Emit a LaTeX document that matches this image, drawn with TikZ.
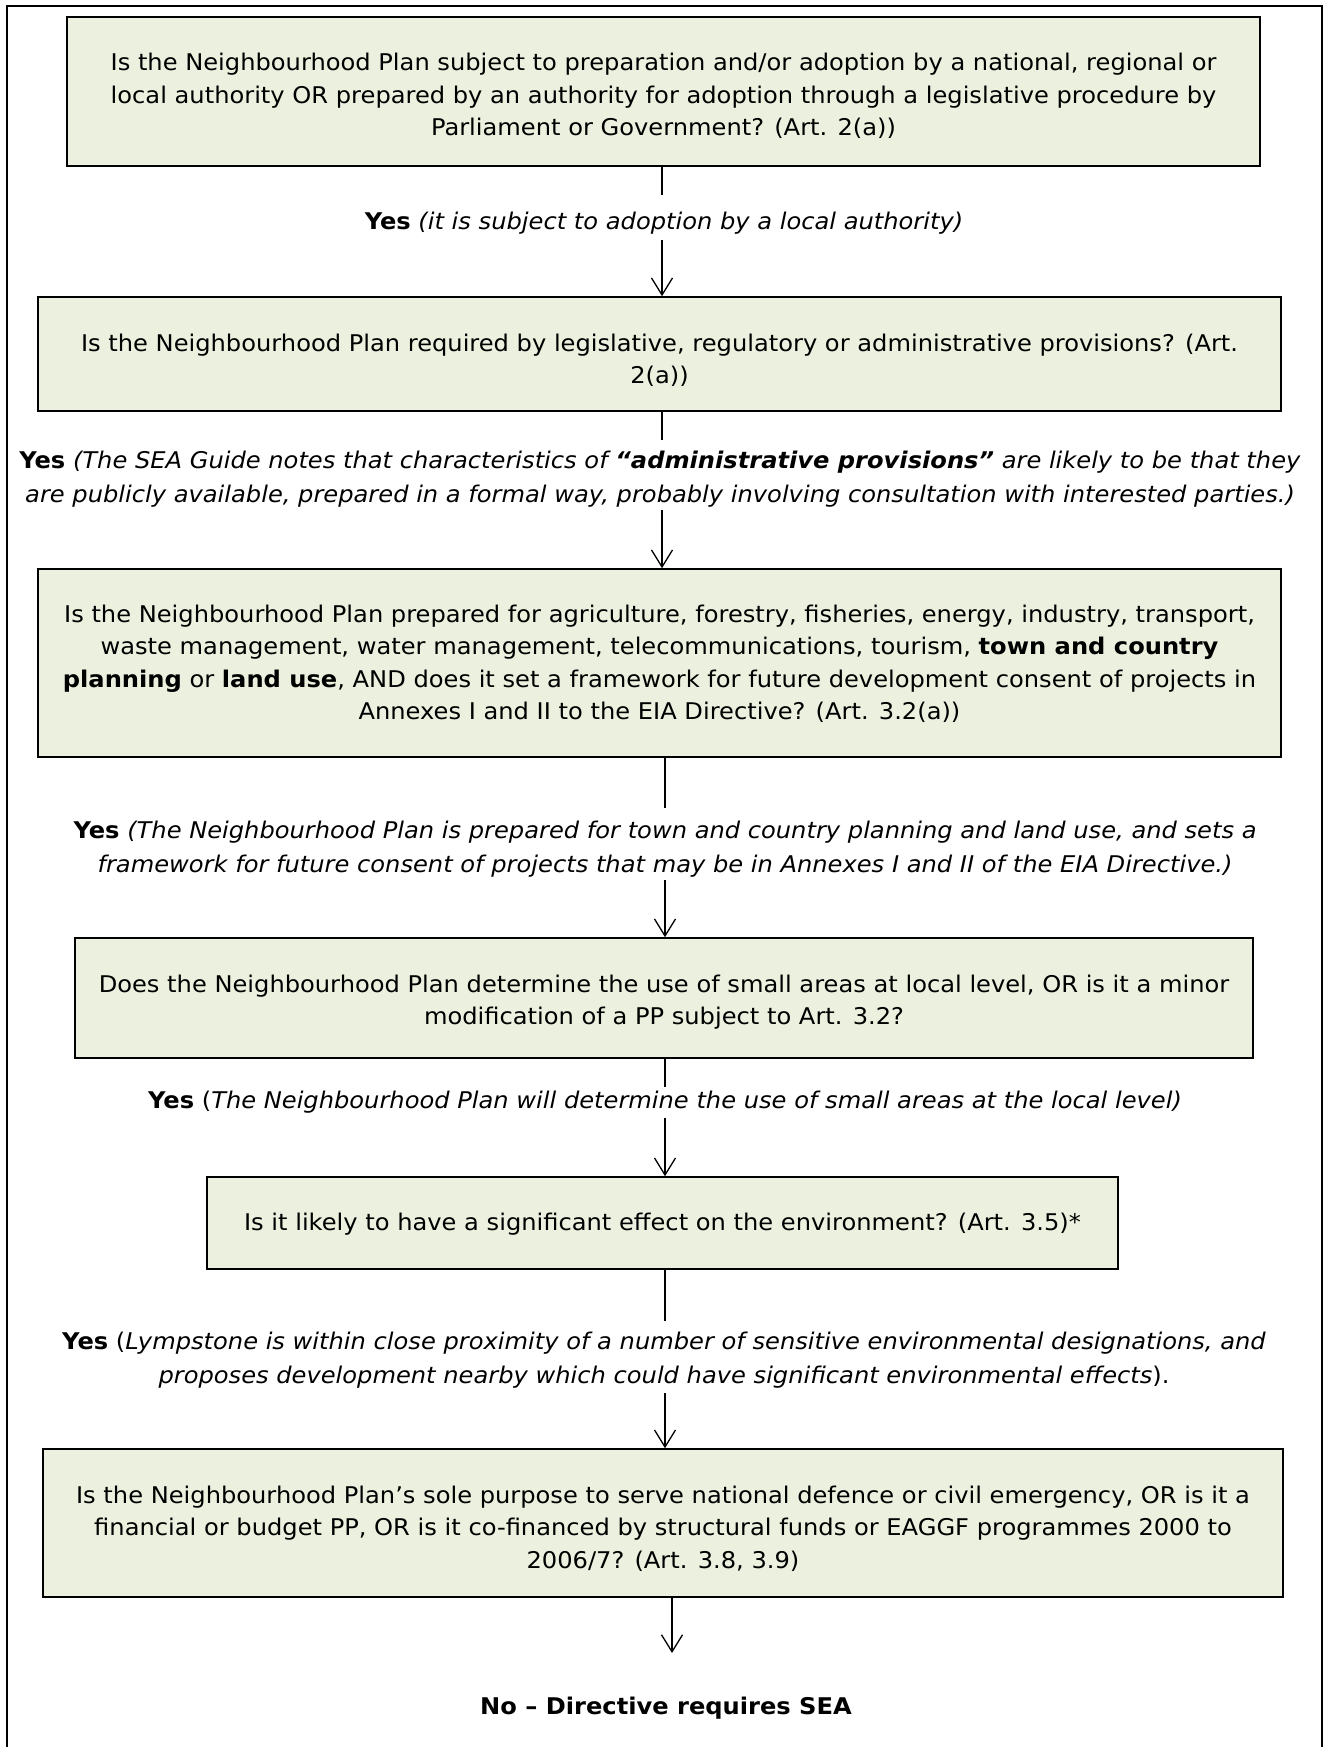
\documentclass[tikz,border=0pt]{standalone}
\usepackage{fontspec}
\setmainfont{DejaVu Sans}[FakeStretch=1.05]
\usetikzlibrary{arrows.meta}
\definecolor{boxfill}{RGB}{235,241,222}
\newcommand\dnshift[1]{\rule{0pt}{\dimexpr 17.5pt+2\dimexpr #1pt\relax\relax}}
\tikzset{
  qbox/.style={draw=black, line width=1.6pt, fill=boxfill, align=center, inner sep=0pt,
    font=\fontsize{23}{32.5}\selectfont},
  lbl/.style={align=center, inner sep=0pt, font=\fontsize{23}{34}\selectfont},
  conn/.style={line width=1.3pt},
  arr/.style={line width=1.3pt, -{Straight Barb[length=17pt,width=21pt,line width=1.3pt]}}
}
\begin{document}
\begin{tikzpicture}[x=1pt,y=-1pt]
\useasboundingbox (0,0) rectangle (1324,1747);
\fill[white] (0,0) rectangle (1324,1747);
\draw[line width=2.2pt] (7,1750) -- (7,6) -- (1322,6) -- (1322,1750);

% boxes
\node[qbox, minimum width=1193, minimum height=149] (b1) at (663.5,91.5)
 {\dnshift{4.5}Is the Neighbourhood Plan subject to preparation and/or adoption by a national, regional or\\
  local authority OR prepared by an authority for adoption through a legislative procedure by\\
  Parliament or Government? (Art. 2(a))};
\node[qbox, minimum width=1243, minimum height=114] (b2) at (659.5,354)
 {\dnshift{6.5}Is the Neighbourhood Plan required by legislative, regulatory or administrative provisions? (Art.\\
  2(a))};
\node[qbox, minimum width=1243, minimum height=188] (b3) at (659.5,663)
 {\dnshift{1}Is the Neighbourhood Plan prepared for agriculture, forestry, fisheries, energy, industry, transport,\\
  waste management, water management, telecommunications, tourism, \textbf{town and country}\\
  \textbf{planning} or \textbf{land use}, AND does it set a framework for future development consent of projects in\\
  Annexes I and II to the EIA Directive? (Art. 3.2(a))};
\node[qbox, minimum width=1178, minimum height=120] (b4) at (664,998)
 {\dnshift{4}Does the Neighbourhood Plan determine the use of small areas at local level, OR is it a minor\\
  modification of a PP subject to Art. 3.2?};
\node[qbox, minimum width=911, minimum height=92] (b5) at (662.5,1223)
 {\dnshift{1}Is it likely to have a significant effect on the environment? (Art. 3.5)*};
\node[qbox, minimum width=1240, minimum height=148] (b6) at (663,1523)
 {\dnshift{5.5}Is the Neighbourhood Plan’s sole purpose to serve national defence or civil emergency, OR is it a\\
  financial or budget PP, OR is it co-financed by structural funds or EAGGF programmes 2000 to\\
  2006/7? (Art. 3.8, 3.9)};

% labels
\node[lbl] (l1) at (664,223.5) {\textbf{Yes} \textit{(it is subject to adoption by a local authority)}};
\node[lbl] (l2) at (660,479)
 {\textbf{Yes} \textit{(The SEA Guide notes that characteristics of \textbf{“administrative provisions”} are likely to be that they}\\
  \textit{are publicly available, prepared in a formal way, probably involving consultation with interested parties.)}};
\node[lbl] (l3) at (665,849.5)
 {\textbf{Yes} \textit{(The Neighbourhood Plan is prepared for town and country planning and land use, and sets a}\\
  \textit{framework for future consent of projects that may be in Annexes I and II of the EIA Directive.)}};
\node[lbl] (l4) at (665,1102.5)
 {\textbf{Yes} (\textit{The Neighbourhood Plan will determine the use of small areas at the local level)}};
\node[lbl] (l5) at (664,1360)
 {\textbf{Yes} (\textit{Lympstone is within close proximity of a number of sensitive environmental designations, and}\\
  \textit{proposes development nearby which could have significant environmental effects}).};
\node[lbl] (fin) at (666,1708) {\textbf{No – Directive requires SEA}};

% connector gap ends
\coordinate (g1a) at (662,195);  \coordinate (g1b) at (662,240);
\coordinate (g2a) at (662,440);  \coordinate (g2b) at (662,510);
\coordinate (g3a) at (665,808);  \coordinate (g3b) at (665,880);
\coordinate (g4a) at (665,1087); \coordinate (g4b) at (665,1118);
\coordinate (g5a) at (665,1321); \coordinate (g5b) at (665,1393);
\coordinate (g6) at (672,1653);

\draw[conn] (b1.south -| g1a) -- (g1a);
\draw[arr] (g1b) -- (b2.north -| g1b);
\draw[conn] (b2.south -| g2a) -- (g2a);
\draw[arr] (g2b) -- (b3.north -| g2b);
\draw[conn] (b3.south -| g3a) -- (g3a);
\draw[arr] (g3b) -- (b4.north -| g3b);
\draw[conn] (b4.south -| g4a) -- (g4a);
\draw[arr] (g4b) -- (b5.north -| g4b);
\draw[conn] (b5.south -| g5a) -- (g5a);
\draw[arr] (g5b) -- (b6.north -| g5b);
\draw[arr] (b6.south -| g6) -- (g6);
\end{tikzpicture}
\end{document}
